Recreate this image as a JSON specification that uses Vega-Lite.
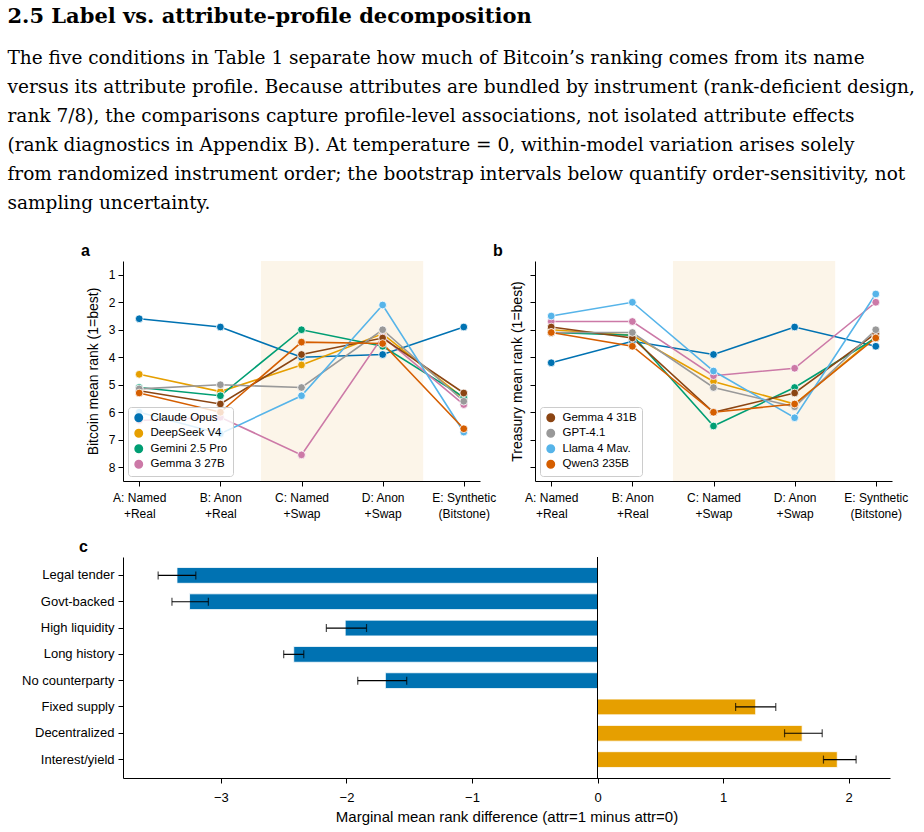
{
  "$schema": "https://vega.github.io/schema/vega-lite/v6.json",
  "background": "white",
  "padding": {"left": 7, "top": 5, "right": 5, "bottom": 5},
  "title": {
    "text": "2.5 Label vs. attribute-profile decomposition",
    "subtitle": [
      "The five conditions in Table 1 separate how much of Bitcoin’s ranking comes from its name",
      "versus its attribute profile. Because attributes are bundled by instrument (rank-deficient design,",
      "rank 7/8), the comparisons capture profile-level associations, not isolated attribute effects",
      "(rank diagnostics in Appendix B). At temperature = 0, within-model variation arises solely",
      "from randomized instrument order; the bootstrap intervals below quantify order-sensitivity, not",
      "sampling uncertainty."
    ],
    "anchor": "start",
    "dx": -14,
    "font": "DejaVu Serif",
    "fontSize": 21,
    "fontWeight": "bold",
    "color": "black",
    "subtitleFont": "DejaVu Serif",
    "subtitleFontSize": 18.5,
    "subtitleColor": "black",
    "subtitleLineHeight": 29,
    "subtitlePadding": 22,
    "offset": 31
  },
  "datasets": {
    "bitcoin": [
      {"model": "Claude Opus", "condition": "A: Named\n+Real", "rank": 2.6},
      {"model": "Claude Opus", "condition": "B: Anon\n+Real", "rank": 2.9},
      {"model": "Claude Opus", "condition": "C: Named\n+Swap", "rank": 4.0},
      {"model": "Claude Opus", "condition": "D: Anon\n+Swap", "rank": 3.9},
      {"model": "Claude Opus", "condition": "E: Synthetic\n(Bitstone)", "rank": 2.9},
      {"model": "DeepSeek V4", "condition": "A: Named\n+Real", "rank": 4.62},
      {"model": "DeepSeek V4", "condition": "B: Anon\n+Real", "rank": 5.25},
      {"model": "DeepSeek V4", "condition": "C: Named\n+Swap", "rank": 4.28},
      {"model": "DeepSeek V4", "condition": "D: Anon\n+Swap", "rank": 3.15},
      {"model": "DeepSeek V4", "condition": "E: Synthetic\n(Bitstone)", "rank": 5.5},
      {"model": "Gemini 2.5 Pro", "condition": "A: Named\n+Real", "rank": 5.1},
      {"model": "Gemini 2.5 Pro", "condition": "B: Anon\n+Real", "rank": 5.4},
      {"model": "Gemini 2.5 Pro", "condition": "C: Named\n+Swap", "rank": 3.0},
      {"model": "Gemini 2.5 Pro", "condition": "D: Anon\n+Swap", "rank": 3.6},
      {"model": "Gemini 2.5 Pro", "condition": "E: Synthetic\n(Bitstone)", "rank": 5.45},
      {"model": "Gemma 3 27B", "condition": "A: Named\n+Real", "rank": 6.3},
      {"model": "Gemma 3 27B", "condition": "B: Anon\n+Real", "rank": 6.18},
      {"model": "Gemma 3 27B", "condition": "C: Named\n+Swap", "rank": 7.55},
      {"model": "Gemma 3 27B", "condition": "D: Anon\n+Swap", "rank": 3.25},
      {"model": "Gemma 3 27B", "condition": "E: Synthetic\n(Bitstone)", "rank": 5.72},
      {"model": "Gemma 4 31B", "condition": "A: Named\n+Real", "rank": 5.22},
      {"model": "Gemma 4 31B", "condition": "B: Anon\n+Real", "rank": 5.7},
      {"model": "Gemma 4 31B", "condition": "C: Named\n+Swap", "rank": 3.9},
      {"model": "Gemma 4 31B", "condition": "D: Anon\n+Swap", "rank": 3.3},
      {"model": "Gemma 4 31B", "condition": "E: Synthetic\n(Bitstone)", "rank": 5.3},
      {"model": "GPT-4.1", "condition": "A: Named\n+Real", "rank": 5.15},
      {"model": "GPT-4.1", "condition": "B: Anon\n+Real", "rank": 5.0},
      {"model": "GPT-4.1", "condition": "C: Named\n+Swap", "rank": 5.1},
      {"model": "GPT-4.1", "condition": "D: Anon\n+Swap", "rank": 3.0},
      {"model": "GPT-4.1", "condition": "E: Synthetic\n(Bitstone)", "rank": 5.6},
      {"model": "Llama 4 Mav.", "condition": "A: Named\n+Real", "rank": 6.0},
      {"model": "Llama 4 Mav.", "condition": "B: Anon\n+Real", "rank": 6.78},
      {"model": "Llama 4 Mav.", "condition": "C: Named\n+Swap", "rank": 5.4},
      {"model": "Llama 4 Mav.", "condition": "D: Anon\n+Swap", "rank": 2.1},
      {"model": "Llama 4 Mav.", "condition": "E: Synthetic\n(Bitstone)", "rank": 6.72},
      {"model": "Qwen3 235B", "condition": "A: Named\n+Real", "rank": 5.3},
      {"model": "Qwen3 235B", "condition": "B: Anon\n+Real", "rank": 6.0},
      {"model": "Qwen3 235B", "condition": "C: Named\n+Swap", "rank": 3.45},
      {"model": "Qwen3 235B", "condition": "D: Anon\n+Swap", "rank": 3.5},
      {"model": "Qwen3 235B", "condition": "E: Synthetic\n(Bitstone)", "rank": 6.6}
    ],
    "treasury": [
      {"model": "Claude Opus", "condition": "A: Named\n+Real", "rank": 4.2},
      {"model": "Claude Opus", "condition": "B: Anon\n+Real", "rank": 3.42},
      {"model": "Claude Opus", "condition": "C: Named\n+Swap", "rank": 3.9},
      {"model": "Claude Opus", "condition": "D: Anon\n+Swap", "rank": 2.9},
      {"model": "Claude Opus", "condition": "E: Synthetic\n(Bitstone)", "rank": 3.6},
      {"model": "DeepSeek V4", "condition": "A: Named\n+Real", "rank": 3.0},
      {"model": "DeepSeek V4", "condition": "B: Anon\n+Real", "rank": 3.2},
      {"model": "DeepSeek V4", "condition": "C: Named\n+Swap", "rank": 4.88},
      {"model": "DeepSeek V4", "condition": "D: Anon\n+Swap", "rank": 5.7},
      {"model": "DeepSeek V4", "condition": "E: Synthetic\n(Bitstone)", "rank": 3.25},
      {"model": "Gemini 2.5 Pro", "condition": "A: Named\n+Real", "rank": 3.1},
      {"model": "Gemini 2.5 Pro", "condition": "B: Anon\n+Real", "rank": 3.2},
      {"model": "Gemini 2.5 Pro", "condition": "C: Named\n+Swap", "rank": 6.5},
      {"model": "Gemini 2.5 Pro", "condition": "D: Anon\n+Swap", "rank": 5.1},
      {"model": "Gemini 2.5 Pro", "condition": "E: Synthetic\n(Bitstone)", "rank": 3.3},
      {"model": "Gemma 3 27B", "condition": "A: Named\n+Real", "rank": 2.7},
      {"model": "Gemma 3 27B", "condition": "B: Anon\n+Real", "rank": 2.7},
      {"model": "Gemma 3 27B", "condition": "C: Named\n+Swap", "rank": 4.67},
      {"model": "Gemma 3 27B", "condition": "D: Anon\n+Swap", "rank": 4.4},
      {"model": "Gemma 3 27B", "condition": "E: Synthetic\n(Bitstone)", "rank": 2.0},
      {"model": "Gemma 4 31B", "condition": "A: Named\n+Real", "rank": 2.9},
      {"model": "Gemma 4 31B", "condition": "B: Anon\n+Real", "rank": 3.3},
      {"model": "Gemma 4 31B", "condition": "C: Named\n+Swap", "rank": 6.0},
      {"model": "Gemma 4 31B", "condition": "D: Anon\n+Swap", "rank": 5.3},
      {"model": "Gemma 4 31B", "condition": "E: Synthetic\n(Bitstone)", "rank": 3.13},
      {"model": "GPT-4.1", "condition": "A: Named\n+Real", "rank": 3.1},
      {"model": "GPT-4.1", "condition": "B: Anon\n+Real", "rank": 3.1},
      {"model": "GPT-4.1", "condition": "C: Named\n+Swap", "rank": 5.1},
      {"model": "GPT-4.1", "condition": "D: Anon\n+Swap", "rank": 5.8},
      {"model": "GPT-4.1", "condition": "E: Synthetic\n(Bitstone)", "rank": 3.0},
      {"model": "Llama 4 Mav.", "condition": "A: Named\n+Real", "rank": 2.5},
      {"model": "Llama 4 Mav.", "condition": "B: Anon\n+Real", "rank": 2.0},
      {"model": "Llama 4 Mav.", "condition": "C: Named\n+Swap", "rank": 4.5},
      {"model": "Llama 4 Mav.", "condition": "D: Anon\n+Swap", "rank": 6.2},
      {"model": "Llama 4 Mav.", "condition": "E: Synthetic\n(Bitstone)", "rank": 1.7},
      {"model": "Qwen3 235B", "condition": "A: Named\n+Real", "rank": 3.1},
      {"model": "Qwen3 235B", "condition": "B: Anon\n+Real", "rank": 3.6},
      {"model": "Qwen3 235B", "condition": "C: Named\n+Swap", "rank": 6.0},
      {"model": "Qwen3 235B", "condition": "D: Anon\n+Swap", "rank": 5.7},
      {"model": "Qwen3 235B", "condition": "E: Synthetic\n(Bitstone)", "rank": 3.3}
    ],
    "swap": [{"start": 1.5, "end": 3.5}],
    "attrs": [
      {"attribute": "Legal tender", "diff": -3.35, "lo": -3.5, "hi": -3.2},
      {"attribute": "Govt-backed", "diff": -3.25, "lo": -3.39, "hi": -3.1},
      {"attribute": "High liquidity", "diff": -2.01, "lo": -2.16, "hi": -1.84},
      {"attribute": "Long history", "diff": -2.42, "lo": -2.5, "hi": -2.34},
      {"attribute": "No counterparty", "diff": -1.69, "lo": -1.91, "hi": -1.52},
      {"attribute": "Fixed supply", "diff": 1.26, "lo": 1.1, "hi": 1.42},
      {"attribute": "Decentralized", "diff": 1.63, "lo": 1.49, "hi": 1.79},
      {"attribute": "Interest/yield", "diff": 1.91, "lo": 1.8, "hi": 2.06}
    ]
  },
  "vconcat": [
    {
      "hconcat": [
        {
          "width": 357,
          "height": 220,
          "title": {"text": "a", "frame": "group", "anchor": "start", "dx": -42, "fontSize": 16, "fontWeight": "bold", "font": "Liberation Sans", "color": "black", "offset": 2},
          "layer": [
            {
              "data": {"name": "swap"},
              "mark": {"type": "rect", "color": "#FCF5E9"},
              "encoding": {
                "x": {"field": "start", "type": "quantitative", "scale": {"domain": [-0.2, 4.2], "nice": false, "zero": false}, "axis": null},
                "x2": {"field": "end"}
              }
            },
            {
              "data": {"name": "bitcoin"},
              "encoding": {
                "x": {"field": "condition", "type": "nominal", "scale": {"type": "point", "padding": 0.2}, "axis": {"title": null, "labelAngle": 0, "labelExpr": "split(datum.label, '\\n')", "labelLineHeight": 16, "labelPadding": 6}},
                "y": {"field": "rank", "type": "quantitative", "scale": {"domain": [0.5, 8.5], "reverse": true, "nice": false, "zero": false}, "axis": {"values": [1, 2, 3, 4, 5, 6, 7, 8], "title": "Bitcoin mean rank (1=best)", "titlePadding": 8}},
                "color": {
                  "field": "model",
                  "type": "nominal",
                  "scale": {
                    "domain": ["Claude Opus", "DeepSeek V4", "Gemini 2.5 Pro", "Gemma 3 27B", "Gemma 4 31B", "GPT-4.1", "Llama 4 Mav.", "Qwen3 235B"],
                    "range": ["#0072B2", "#E69F00", "#009E73", "#CC79A7", "#8B4513", "#999999", "#56B4E9", "#D55E00"]
                  },
                  "legend": {"values": ["Claude Opus", "DeepSeek V4", "Gemini 2.5 Pro", "Gemma 3 27B"]}
                }
              },
              "layer": [
                {"mark": {"type": "line", "strokeWidth": 1.6}},
                {"mark": {"type": "point", "filled": true, "size": 60, "stroke": "white", "strokeWidth": 0.8, "opacity": 1}}
              ]
            }
          ],
          "resolve": {"scale": {"x": "independent"}}
        },
        {
          "width": 357,
          "height": 220,
          "title": {"text": "b", "frame": "group", "anchor": "start", "dx": -42, "fontSize": 16, "fontWeight": "bold", "font": "Liberation Sans", "color": "black", "offset": 2},
          "layer": [
            {
              "data": {"name": "swap"},
              "mark": {"type": "rect", "color": "#FCF5E9"},
              "encoding": {
                "x": {"field": "start", "type": "quantitative", "scale": {"domain": [-0.2, 4.2], "nice": false, "zero": false}, "axis": null},
                "x2": {"field": "end"}
              }
            },
            {
              "data": {"name": "treasury"},
              "encoding": {
                "x": {"field": "condition", "type": "nominal", "scale": {"type": "point", "padding": 0.2}, "axis": {"title": null, "labelAngle": 0, "labelExpr": "split(datum.label, '\\n')", "labelLineHeight": 16, "labelPadding": 6}},
                "y": {"field": "rank", "type": "quantitative", "scale": {"domain": [0.5, 8.5], "reverse": true, "nice": false, "zero": false}, "axis": {"values": [1, 2, 3, 4, 5, 6, 7, 8], "labels": false, "title": "Treasury mean rank (1=best)", "titlePadding": 5}},
                "color": {
                  "field": "model",
                  "type": "nominal",
                  "scale": {
                    "domain": ["Claude Opus", "DeepSeek V4", "Gemini 2.5 Pro", "Gemma 3 27B", "Gemma 4 31B", "GPT-4.1", "Llama 4 Mav.", "Qwen3 235B"],
                    "range": ["#0072B2", "#E69F00", "#009E73", "#CC79A7", "#8B4513", "#999999", "#56B4E9", "#D55E00"]
                  },
                  "legend": {"values": ["Gemma 4 31B", "GPT-4.1", "Llama 4 Mav.", "Qwen3 235B"]}
                }
              },
              "layer": [
                {"mark": {"type": "line", "strokeWidth": 1.6}},
                {"mark": {"type": "point", "filled": true, "size": 60, "stroke": "white", "strokeWidth": 0.8, "opacity": 1}}
              ]
            }
          ],
          "resolve": {"scale": {"x": "independent"}}
        }
      ],
      "spacing": 55,
      "bounds": "flush",
      "resolve": {"scale": {"color": "independent"}}
    },
    {
      "width": 767,
      "height": 221,
      "title": {"text": "c", "frame": "group", "anchor": "start", "dx": -44, "fontSize": 16, "fontWeight": "bold", "font": "Liberation Sans", "color": "black", "offset": 2},
      "data": {"name": "attrs"},
      "layer": [
        {
          "mark": {"type": "bar", "stroke": "white", "strokeWidth": 0.8},
          "encoding": {
            "y": {"field": "attribute", "type": "nominal", "sort": null, "scale": {"paddingInner": 0.4, "paddingOuter": 0.4}, "axis": {"title": null, "labelPadding": 4, "labelFontSize": 13}},
            "x": {"field": "diff", "type": "quantitative", "scale": {"domain": [-3.78, 2.33], "nice": false}, "axis": {"values": [-3, -2, -1, 0, 1, 2], "format": "d", "labelFontSize": 13, "labelPadding": 8, "title": "Marginal mean rank difference (attr=1 minus attr=0)", "titleFontSize": 15, "titlePadding": 5}},
            "color": {"condition": {"test": "datum.diff < 0", "value": "#0072B2"}, "value": "#E69F00"}
          }
        },
        {
          "mark": {"type": "rule", "color": "black", "strokeWidth": 0.8},
          "encoding": {"x": {"datum": 0}}
        },
        {
          "mark": {"type": "errorbar", "ticks": {"size": 8}, "color": "black", "thickness": 1.2},
          "encoding": {
            "y": {"field": "attribute", "type": "nominal", "sort": null},
            "x": {"field": "lo", "type": "quantitative", "title": "Marginal mean rank difference (attr=1 minus attr=0)"},
            "x2": {"field": "hi"}
          }
        }
      ]
    }
  ],
  "spacing": 19,
  "config": {
    "view": {"stroke": null},
    "font": "Liberation Sans",
    "axis": {
      "grid": false,
      "domainColor": "black",
      "domainWidth": 1,
      "tickColor": "black",
      "tickWidth": 1,
      "tickSize": 5,
      "labelColor": "black",
      "titleColor": "black",
      "labelFont": "Liberation Sans",
      "titleFont": "Liberation Sans",
      "labelFontSize": 12,
      "titleFontSize": 14,
      "titleFontWeight": "normal",
      "labelPadding": 3
    },
    "legend": {
      "title": null,
      "orient": "bottom-left",
      "offset": 5,
      "fillColor": "rgba(255,255,255,0.8)",
      "strokeColor": "#cccccc",
      "padding": 5,
      "cornerRadius": 3,
      "labelFont": "Liberation Sans",
      "labelFontSize": 11.5,
      "labelColor": "black",
      "symbolType": "circle",
      "symbolSize": 55,
      "rowPadding": 1.5,
      "labelOffset": 6
    }
  }
}
